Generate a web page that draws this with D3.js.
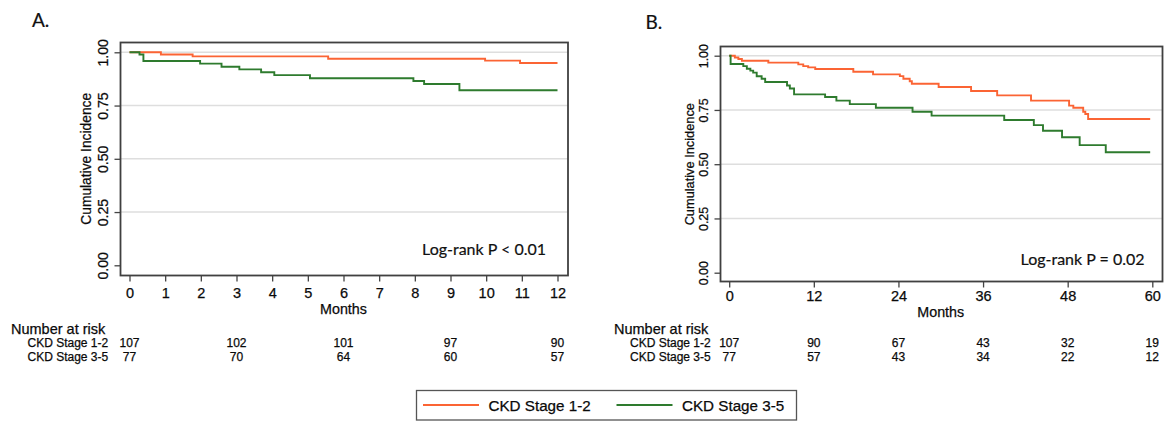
<!DOCTYPE html>
<html>
<head>
<meta charset="utf-8">
<script src="https://cdn.jsdelivr.net/npm/d3@7"></script>
<style>
  body { margin: 0; background: #fff; }
  svg { display: block; }
  .tick-label, .axis-title, .risk { font-family: "Liberation Sans", Arial, sans-serif; fill: #0a0a0a; stroke: #0a0a0a; stroke-width: 0.25; }
  .note { font-family: Lato, "Open Sans", sans-serif; fill: #111; stroke: #111; stroke-width: 0.2; }
</style>
</head>
<body>
<div id="chart"></div>
<script>
/* CONSTANTS AND GLOBALS */
const width = 1171,
  height = 424,
  orange = "#fb6434",
  green = "#2e7b2e";

const groups = ["CKD Stage 1-2", "CKD Stage 3-5"];
const yTicks = [0, 0.25, 0.5, 0.75, 1];
const xTicksA = [0, 1, 2, 3, 4, 5, 6, 7, 8, 9, 10, 11, 12];
const xTicksB = [0, 12, 24, 36, 48, 60];

// panel A: months / cumulative incidence at each step
const a12Time = [0, 0.88, 1.77, 5.57, 9.97, 10.95, 12];
const a12Surv = [1.00, 0.99, 0.981, 0.97, 0.961, 0.95, 0.95];
const a35Time = [0, 0.28, 0.39, 1.98, 2.58, 3.08, 3.69, 4.06, 5.06, 7.96, 8.26, 9.25, 12];
const a35Surv = [1.00, 0.99, 0.959, 0.947, 0.932, 0.92, 0.906, 0.893, 0.878, 0.865, 0.851, 0.822, 0.822];

// panel B
const b12Time = [0, 0.8, 1.3, 1.8, 5.55, 9.8, 10.5, 11.2, 12.2, 17.6, 20.4, 24.2, 24.7, 25.6, 25.9, 29.7, 34.3, 38.0, 42.8, 48.2, 48.8, 50.2, 50.5, 50.9, 59.7];
const b12Surv = [1, 0.992, 0.985, 0.977, 0.968, 0.96, 0.952, 0.946, 0.939, 0.926, 0.914, 0.906, 0.894, 0.882, 0.871, 0.856, 0.837, 0.817, 0.793, 0.77, 0.76, 0.742, 0.731, 0.708, 0.708];
const b35Time = [0, 0.2, 2.0, 2.5, 3.0, 3.4, 3.9, 4.6, 5.1, 8.2, 8.6, 9.2, 13.6, 15.2, 17.1, 20.8, 26.0, 28.7, 39.0, 43.2, 44.5, 47.2, 49.7, 53.4, 59.7];
const b35Surv = [1, 0.962, 0.952, 0.94, 0.931, 0.922, 0.905, 0.894, 0.879, 0.863, 0.849, 0.822, 0.81, 0.793, 0.777, 0.76, 0.742, 0.724, 0.704, 0.68, 0.654, 0.624, 0.588, 0.555, 0.555];

// number at risk
const riskTimesA = [0, 3, 6, 9, 12];
const riskA12 = [107, 102, 101, 97, 90];
const riskA35 = [77, 70, 64, 60, 57];
const riskTimesB = [0, 12, 24, 36, 48, 60];
const riskB12 = [107, 90, 67, 43, 32, 19];
const riskB35 = [77, 57, 43, 34, 22, 12];

const toSteps = (t, s) => t.map((d, i) => ({ t: d, s: s[i] }));

const panels = [
  {
    letter: "A.", letterX: 32, letterY: 19,
    frame: { left: 120.5, right: 568, top: 42.5, bottom: 275.5 },
    xRange: [129.5, 557.5], xMax: 12, xTicks: xTicksA,
    yRange: [265.3, 52.3],
    yLabelX: 103, yLabelSize: 14.2, yTitleX: 86.5, yTitleSize: 13.8,
    xLabelY: 292.5, monthsY: 309,
    logrank: "Log-rank P < 0.01", logrankX: 546, logrankY: 248,
    curves: [toSteps(a12Time, a12Surv), toSteps(a35Time, a35Surv)],
    riskTimes: riskTimesA, risk: [riskA12, riskA35],
    riskHeadX: 11, riskLabelX: 27.5
  },
  {
    letter: "B.", letterX: 645.5, letterY: 21,
    frame: { left: 720.5, right: 1162.5, top: 46.5, bottom: 281.5 },
    xRange: [729.2, 1152.3], xMax: 60, xTicks: xTicksB,
    yRange: [272.7, 55.7],
    yLabelX: 703.6, yLabelSize: 12.4, yTitleX: 689.5, yTitleSize: 12.8,
    xLabelY: 296, monthsY: 312,
    logrank: "Log-rank P = 0.02", logrankX: 1144.5, logrankY: 258,
    curves: [toSteps(b12Time, b12Surv), toSteps(b35Time, b35Surv)],
    riskTimes: riskTimesB, risk: [riskB12, riskB35],
    riskHeadX: 614, riskLabelX: 630
  }
];

let svg;

function init() {
  svg = d3.select("#chart")
    .append("svg")
    .attr("width", width)
    .attr("height", height);

  svg.append("rect").attr("width", width).attr("height", height).attr("fill", "#fff");

  panels.forEach(drawPanel);
  drawLegend();
}

function drawPanel(p) {
  const xScale = d3.scaleLinear().domain([0, p.xMax]).range(p.xRange);
  const yScale = d3.scaleLinear().domain([0, 1]).range(p.yRange);
  const f = p.frame;
  const g = svg.append("g");

  g.append("text")
    .attr("class", "note")
    .attr("x", p.letterX)
    .attr("y", p.letterY)
    .attr("dominant-baseline", "central")
    .attr("font-size", 19)
    .text(p.letter);

  // grid lines
  g.selectAll("line.grid")
    .data(yTicks.filter(d => d > 0))
    .join("line")
    .attr("class", "grid")
    .attr("x1", f.left)
    .attr("x2", f.right)
    .attr("y1", d => yScale(d))
    .attr("y2", d => yScale(d))
    .attr("stroke", "#dedede")
    .attr("stroke-width", 1.4);

  // y axis
  const yAxis = d3.axisLeft(yScale).tickValues(yTicks).tickFormat(d3.format(".2f")).tickSize(6);
  g.append("g")
    .attr("transform", `translate(${f.left},0)`)
    .call(yAxis)
    .call(a => a.select(".domain").remove())
    .call(a => a.selectAll(".tick line").attr("stroke", "#444").attr("stroke-width", 1.3))
    .call(a => a.selectAll(".tick text")
      .attr("class", "tick-label")
      .attr("x", 0)
      .attr("dy", 0)
      .attr("font-size", p.yLabelSize)
      .attr("text-anchor", "middle")
      .attr("dominant-baseline", "central")
      .attr("transform", `translate(${p.yLabelX - f.left},0) rotate(-90)`));

  // x axis
  const xAxis = d3.axisBottom(xScale).tickValues(p.xTicks).tickFormat(d3.format("d")).tickSize(6);
  g.append("g")
    .attr("transform", `translate(0,${f.bottom})`)
    .call(xAxis)
    .call(a => a.select(".domain").remove())
    .call(a => a.selectAll(".tick line").attr("stroke", "#444").attr("stroke-width", 1.3))
    .call(a => a.selectAll(".tick text")
      .attr("class", "tick-label")
      .attr("y", p.xLabelY - f.bottom)
      .attr("dy", 0)
      .attr("font-size", 14.5)
      .attr("dominant-baseline", "central"));

  g.append("text")
    .attr("class", "axis-title")
    .attr("x", (p.xRange[0] + p.xRange[1]) / 2)
    .attr("y", p.monthsY)
    .attr("text-anchor", "middle")
    .attr("dominant-baseline", "central")
    .attr("font-size", 14.3)
    .text("Months");

  g.append("text")
    .attr("class", "axis-title")
    .attr("transform", `translate(${p.yTitleX},${(p.yRange[0] + p.yRange[1]) / 2}) rotate(-90)`)
    .attr("text-anchor", "middle")
    .attr("dominant-baseline", "central")
    .attr("font-size", p.yTitleSize)
    .text("Cumulative Incidence");

  // curves
  const lineFunc = d3.line()
    .x(d => xScale(d.t))
    .y(d => yScale(d.s))
    .curve(d3.curveStepAfter);

  g.selectAll("path.km")
    .data(p.curves)
    .join("path")
    .attr("class", "km")
    .attr("fill", "none")
    .attr("stroke", (d, i) => [orange, green][i])
    .attr("stroke-width", 1.9)
    .attr("d", lineFunc);

  // frame
  g.append("rect")
    .attr("x", f.left)
    .attr("y", f.top)
    .attr("width", f.right - f.left)
    .attr("height", f.bottom - f.top)
    .attr("fill", "none")
    .attr("stroke", "#404040")
    .attr("stroke-width", 1.8);

  g.append("text")
    .attr("class", "note")
    .attr("x", p.logrankX)
    .attr("y", p.logrankY)
    .attr("text-anchor", "end")
    .attr("dominant-baseline", "central")
    .attr("font-size", 16)
    .text(p.logrank);

  // number at risk table
  g.append("text")
    .attr("class", "risk")
    .attr("x", p.riskHeadX)
    .attr("y", 328.5)
    .attr("dominant-baseline", "central")
    .attr("font-size", 14.5)
    .text("Number at risk");

  const rowY = [343.3, 356.8];
  groups.forEach((name, i) => {
    g.append("text")
      .attr("class", "risk")
      .attr("x", p.riskLabelX)
      .attr("y", rowY[i])
      .attr("dominant-baseline", "central")
      .attr("font-size", 12)
      .text(name);

    g.selectAll(`text.n${i}`)
      .data(p.risk[i])
      .join("text")
      .attr("class", `risk n${i}`)
      .attr("x", (d, j) => xScale(p.riskTimes[j]))
      .attr("y", rowY[i])
      .attr("text-anchor", "middle")
      .attr("dominant-baseline", "central")
      .attr("font-size", 12)
      .text(d => d);
  });
}

function drawLegend() {
  const lg = svg.append("g");
  lg.append("rect")
    .attr("x", 416.5)
    .attr("y", 390.5)
    .attr("width", 380)
    .attr("height", 29.5)
    .attr("fill", "#fff")
    .attr("stroke", "#555")
    .attr("stroke-width", 1.3);

  const items = lg.selectAll("g")
    .data(groups)
    .join("g")
    .attr("transform", (d, i) => `translate(${[423, 616.5][i]},405)`);

  items.append("line")
    .attr("x1", 0)
    .attr("x2", 56)
    .attr("stroke", (d, i) => [orange, green][i])
    .attr("stroke-width", 1.8);

  items.append("text")
    .attr("class", "risk")
    .attr("x", 65.5)
    .attr("dominant-baseline", "central")
    .attr("font-size", 15.2)
    .text(d => d);
}

init();
</script>
</body>
</html>
